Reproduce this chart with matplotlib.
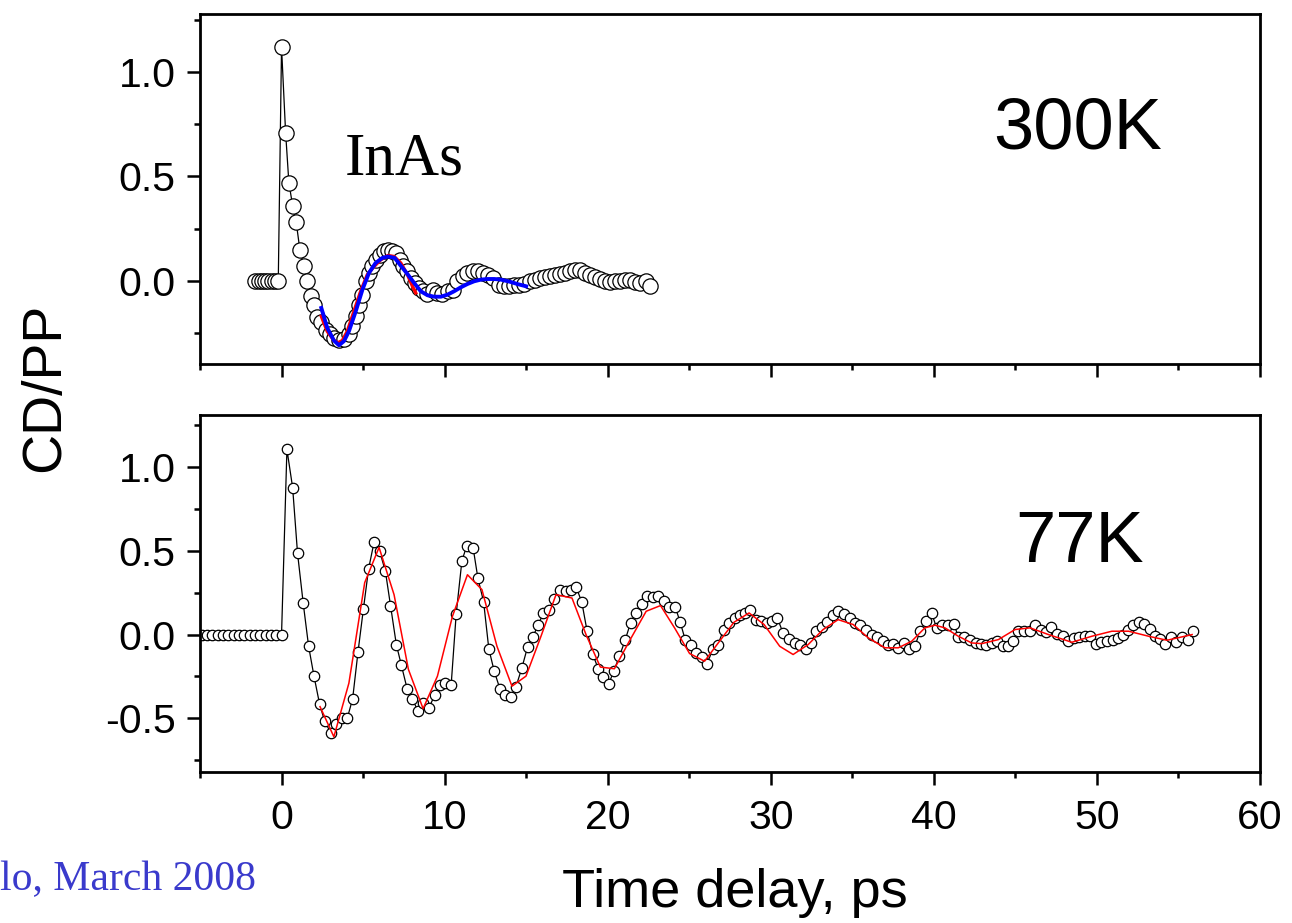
import matplotlib
matplotlib.use("Agg")
import matplotlib.pyplot as plt
from matplotlib.ticker import MultipleLocator, FixedLocator

# ---------------- data: 300K panel ----------------
t300 = [-1.6, -1.4, -1.2, -1.0, -0.8, -0.6, -0.4, -0.2,
        0.0, 0.25, 0.45, 0.68, 0.9, 1.13, 1.37, 1.58, 1.78, 1.99, 2.19, 2.44,
        2.7, 2.97, 3.21, 3.52, 3.83, 4.13, 4.34, 4.55, 4.75, 4.96, 5.16, 5.36,
        5.57, 5.77, 6.04, 6.28, 6.53, 6.8, 7.04, 7.27, 7.47, 7.68, 7.92, 8.17,
        8.43, 8.7, 8.95, 9.26, 9.56, 9.87, 10.18, 10.49, 10.79, 11.1, 11.4,
        11.71, 12.02, 12.33, 12.64, 12.94, 13.35, 13.66, 13.96, 14.27, 14.58,
        14.88, 15.25, 15.56, 15.87, 16.17, 16.48, 16.79, 17.1, 17.4, 17.71,
        18.02, 18.32, 18.63, 18.94, 19.25, 19.55, 19.86, 20.17, 20.47, 20.78,
        21.09, 21.39, 21.7, 22.01, 22.32, 22.62]
cd300 = [0, 0, 0, 0, 0, 0, 0, 0,
         1.12, 0.71, 0.47, 0.36, 0.28, 0.145, 0.07, -0.003, -0.075, -0.115, -0.175, -0.2,
         -0.235, -0.258, -0.274, -0.287, -0.282, -0.258, -0.219, -0.171, -0.115, -0.067, -0.003, 0.037,
         0.068, 0.1, 0.124, 0.14, 0.148, 0.144, 0.132, 0.1, 0.068, 0.045, 0.013, -0.011,
         -0.035, -0.051, -0.064, -0.043, -0.059, -0.064, -0.051, -0.043, -0.003, 0.021, 0.037,
         0.045, 0.045, 0.037, 0.029, 0.013, -0.019, -0.027, -0.027, -0.019, -0.022,
         -0.016, -0.003, 0.005, 0.013, 0.016, 0.021, 0.025, 0.032, 0.037, 0.045,
         0.053, 0.053, 0.037, 0.025, 0.016, 0.01, -0.003, -0.006, 0.0, -0.003,
         0.005, 0.005, -0.006, -0.011, -0.003, -0.027]

fit_red300_t = [2.44, 2.8, 3.21, 3.46, 3.73, 4.03, 4.44, 4.85, 5.26, 5.67, 6.08,
                6.53, 6.9, 7.31, 7.72, 8.03, 8.23]
fit_red300_y = [-0.171, -0.243, -0.287, -0.298, -0.287, -0.243, -0.147, -0.051, 0.029,
                0.068, 0.1, 0.121, 0.116, 0.085, 0.029, -0.027, -0.059]

fit_blue300_t = [2.44, 2.8, 3.21, 3.52, 3.83, 4.13, 4.55, 4.96, 5.36, 5.77, 6.18,
                 6.53, 6.94, 7.35, 7.72, 8.13, 8.54, 8.95, 9.36, 9.77, 10.18, 10.58,
                 10.99, 11.4, 11.81, 12.22, 12.64, 13.04, 13.45, 14.0, 14.5, 15.0]
fit_blue300_y = [-0.131, -0.226, -0.287, -0.31, -0.29, -0.243, -0.147, -0.043, 0.037,
                 0.085, 0.109, 0.116, 0.109, 0.068, 0.032, -0.011, -0.051, -0.07, -0.077,
                 -0.077, -0.067, -0.051, -0.032, -0.016, -0.003, 0.005, 0.008, 0.008,
                 0.005, -0.005, -0.017, -0.027]

# ---------------- data: 77K panel ----------------
t77 = [-4.9, -4.57, -4.25, -3.92, -3.59, -3.27, -2.94, -2.61, -2.29, -1.96, -1.63,
       -1.31, -0.98, -0.65, -0.33, 0.0,
       0.33, 0.68, 0.98, 1.33, 1.66, 1.99, 2.33, 2.64, 3.01, 3.34, 3.69, 4.04, 4.36,
       4.69, 5.02, 5.34, 5.67, 6.02, 6.37, 6.68, 7.04, 7.35, 7.7, 8.03, 8.37, 8.68,
       9.03, 9.38, 9.7, 10.05, 10.4, 10.71, 11.06, 11.36, 11.75, 12.04, 12.39, 12.71,
       13.04, 13.39, 13.72, 14.07, 14.37, 14.74, 15.09, 15.4, 15.75, 16.06, 16.38,
       16.73, 17.08, 17.44, 17.75, 18.06, 18.41, 18.73, 19.08, 19.43, 19.74, 20.07,
       20.37, 20.72, 21.07, 21.4, 21.74, 22.09, 22.42, 22.77, 23.11, 23.45, 23.79,
       24.14, 24.45, 24.75, 25.12, 25.43, 25.78, 26.09, 26.45, 26.76, 27.11, 27.44,
       27.79, 28.09, 28.44, 28.75, 29.07, 29.42, 29.77, 30.1, 30.4, 30.75, 31.1,
       31.47, 31.82, 32.14, 32.45, 32.8, 33.15, 33.46, 33.83, 34.13, 34.48, 34.85,
       35.15, 35.5, 35.83, 36.18, 36.53, 36.86, 37.16, 37.51, 37.82, 38.16, 38.5,
       38.84, 39.15, 39.5, 39.86, 40.17, 40.52, 40.89, 41.23, 41.5, 41.85, 42.22,
       42.57, 42.89, 43.22, 43.55, 43.88, 44.21, 44.53, 44.84, 45.19, 45.54, 45.87,
       46.21, 46.56, 46.87, 47.2, 47.54, 47.89, 48.22, 48.57, 48.91, 49.24, 49.59,
       49.94, 50.26, 50.61, 50.96, 51.29, 51.6, 51.9, 52.23, 52.56, 52.91, 53.24,
       53.58, 53.89, 54.2, 54.56, 54.87, 55.22, 55.57, 55.9]
cd77 = [0, 0, 0, 0, 0, 0, 0, 0, 0, 0, 0, 0, 0, 0, 0, 0,
        1.105, 0.877, 0.486, 0.186, -0.07, -0.248, -0.413, -0.516, -0.585, -0.532, -0.496,
        -0.496, -0.383, -0.103, 0.153, 0.393, 0.55, 0.496, 0.377, 0.173, -0.06, -0.183,
        -0.323, -0.387, -0.456, -0.407, -0.44, -0.363, -0.302, -0.288, -0.302, 0.123,
        0.44, 0.53, 0.516, 0.337, 0.196, -0.085, -0.218, -0.323, -0.359, -0.373, -0.313,
        -0.198, -0.073, -0.016, 0.06, 0.129, 0.149, 0.212, 0.264, 0.262, 0.268, 0.284,
        0.195, 0.024, -0.115, -0.208, -0.252, -0.294, -0.218, -0.129, -0.034, 0.07,
        0.129, 0.183, 0.232, 0.224, 0.228, 0.198, 0.165, 0.165, 0.073, -0.03, -0.06,
        -0.109, -0.135, -0.173, -0.089, -0.06, 0.03, 0.07, 0.1, 0.119, 0.129, 0.149,
        0.089, 0.079, 0.07, 0.079, 0.1, 0.01, -0.026, -0.05, -0.06, -0.089, -0.05, 0.02,
        0.043, 0.073, 0.119, 0.139, 0.125, 0.1, 0.07, 0.06, 0.03, 0.0, -0.014, -0.04,
        -0.06, -0.054, -0.079, -0.05, -0.089, -0.07, 0.02, 0.079, 0.129, 0.04, 0.06,
        0.06, 0.065, -0.014, -0.014, -0.034, -0.05, -0.054, -0.06, -0.05, -0.04, -0.07,
        -0.07, -0.04, 0.02, 0.02, 0.02, 0.06, 0.03, 0.014, 0.046, 0.006, -0.006, -0.04,
        -0.02, -0.014, -0.006, -0.01, -0.054, -0.046, -0.04, -0.034, -0.02, 0.0, 0.03,
        0.055, 0.073, 0.065, 0.034, -0.01, -0.026, -0.054, -0.014, -0.046, -0.014,
        -0.03, 0.02]

fit77_t = [2.36, 3.21, 4.13, 5.1, 5.98, 6.9, 7.78, 8.68, 9.56, 10.48, 11.4, 12.29,
           13.21, 14.13, 14.99, 15.91, 16.83, 17.81, 18.67, 19.55, 20.41, 21.38, 22.36,
           23.24, 24.1, 25.02, 25.94, 26.84, 27.74, 28.67, 29.59, 30.55, 31.37, 32.29,
           33.21, 34.13, 35.05, 35.98, 37.0, 37.82, 38.64, 39.45, 40.07, 40.68, 41.5,
           42.32, 42.94, 43.96, 44.98, 45.9, 47.03, 48.46, 49.69, 50.92, 51.94, 53.17,
           54.3, 55.84]
fit77_y = [-0.43, -0.61, -0.29, 0.31, 0.52, 0.238, -0.208, -0.442, -0.248, 0.109,
           0.357, 0.268, -0.07, -0.308, -0.248, -0.01, 0.238, 0.218, 0.0, -0.194,
           -0.204, -0.03, 0.139, 0.173, 0.04, -0.113, -0.159, -0.042, 0.073, 0.129,
           0.06, -0.07, -0.119, -0.06, 0.03, 0.089, 0.06, -0.02, -0.079, -0.079, -0.04,
           0.04, 0.056, 0.04, -0.01, -0.05, -0.054, -0.03, 0.03, 0.04, 0.0, -0.046,
           -0.01, 0.02, 0.02, -0.01, -0.034, 0.0]

xticks = [0, 10, 20, 30, 40, 50, 60]
yticks = [-0.5, 0.0, 0.5, 1.0]

# ---------------- figure ----------------
plt.rcParams['font.family'] = ['Liberation Sans', 'DejaVu Sans']
W, H = 1292, 923
fig = plt.figure(figsize=(W / 100, H / 100), dpi=100)
ax1 = fig.add_axes([200 / W, 1 - 364 / H, 1060 / W, 350 / H])
ax2 = fig.add_axes([200 / W, 1 - 772 / H, 1060 / W, 357 / H])

ax1.plot(t300, cd300, '-', color='black', lw=0.9, marker='o', ms=11,
         mfc='white', mec='black', mew=0.9, zorder=2)
ax1.plot(fit_red300_t, fit_red300_y, '-', color='red', lw=2.4, zorder=3)
ax1.plot(fit_blue300_t, fit_blue300_y, '-', color='blue', lw=2.8, zorder=4)

ax2.plot(t77, cd77, '-', color='black', lw=0.9, marker='o', ms=7.5,
         mfc='white', mec='black', mew=0.9, zorder=2)
ax2.plot(fit77_t, fit77_y, '-', color='red', lw=1.1, zorder=3)

ax1.set_ylim(-0.4, 1.28)
ax2.set_ylim(-0.82, 1.31)
for ax in (ax1, ax2):
    ax.set_xlim(-5, 60)
    ax.xaxis.set_major_locator(FixedLocator(xticks))
    ax.xaxis.set_minor_locator(MultipleLocator(5))
    ax.yaxis.set_major_locator(FixedLocator(yticks))
    ax.yaxis.set_minor_locator(MultipleLocator(0.25))
    for s in ax.spines.values():
        s.set_linewidth(2.0)
    ax.tick_params(which='major', direction='out', length=9.4, width=1.8,
                   labelsize=29.5, pad=8)
    ax.tick_params(which='minor', direction='out', length=4.5, width=1.8)
    ax.tick_params(axis='x', which='major', pad=10)
ax1.tick_params(axis='x', labelbottom=False)
ax1.set_yticklabels(['', '0.0', '0.5', '1.0'])
ax2.set_yticklabels(['-0.5', '0.0', '0.5', '1.0'])

ax1.text(0.828, 0.669, '300K', transform=ax1.transAxes, fontsize=52,
         ha='center', va='center')
ax1.text(0.193, 0.583, 'InAs', transform=ax1.transAxes, fontsize=44,
         ha='center', va='center', family=['Liberation Serif', 'DejaVu Serif'])
ax2.text(0.830, 0.641, '77K', transform=ax2.transAxes, fontsize=52,
         ha='center', va='center')

fig.text(0.035, 0.58, 'CD/PP', rotation=90, fontsize=40, ha='center', va='center')
fig.text(0.569, 0.0325, 'Time delay, ps', fontsize=39, ha='center', va='center')
fig.text(0.0, 0.047, 'lo, March 2008', fontsize=30, ha='left', va='center',
         color='#3a3acc', family=['Liberation Serif', 'DejaVu Serif'])

fig.savefig('out.png', dpi=100)
